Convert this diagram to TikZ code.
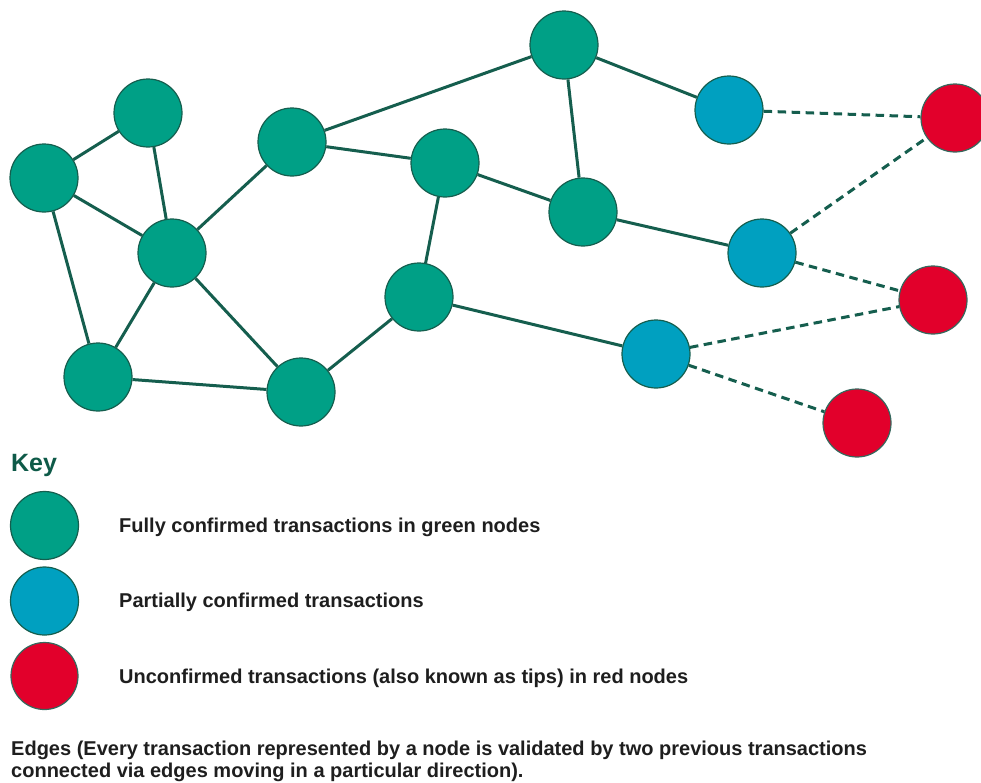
\documentclass[tikz,border=0pt]{standalone}
\usepackage{fontspec}
\setmainfont{Liberation Sans}
\definecolor{tgreen}{HTML}{00A086}
\definecolor{tblue}{HTML}{00A0C0}
\definecolor{tred}{HTML}{E2002B}
\definecolor{tline}{HTML}{155E4E}
\definecolor{tkey}{HTML}{0E5A48}
\definecolor{ttext}{HTML}{1E1E1E}
\begin{document}
\begin{tikzpicture}[x=1pt,y=-1pt,
  tx/.style={circle,minimum size=68pt,inner sep=0pt,line width=1.2pt},
  gnode/.style={tx,fill=tgreen,draw=tline},
  bnode/.style={tx,fill=tblue,draw=tline},
  rnode/.style={tx,fill=tred,draw=tline!70!gray},
  link/.style={draw=tline,line width=3pt},
  tiplink/.style={draw=tline,line width=3pt,dash pattern=on 8.5pt off 5.5pt},
  keytext/.style={anchor=base west,font=\bfseries\fontsize{20}{24}\selectfont,text=ttext,inner sep=0pt},
]
\useasboundingbox (0,0) rectangle (981,782);
% graph nodes
\node[gnode] (a) at (44,178) {};
\node[gnode] (b) at (148,113) {};
\node[gnode] (c) at (292,142) {};
\node[gnode] (d) at (172,253) {};
\node[gnode] (e) at (98,377) {};
\node[gnode] (f) at (301,392) {};
\node[gnode] (g) at (445,163) {};
\node[gnode] (h) at (419,297) {};
\node[gnode] (i) at (564,45) {};
\node[gnode] (j) at (583,212) {};
\node[bnode] (p1) at (729,110) {};
\node[bnode] (p2) at (762,253) {};
\node[bnode] (p3) at (656,354) {};
\node[rnode] (r1) at (955,118) {};
\node[rnode] (r2) at (933,300) {};
\node[rnode] (r3) at (857,423) {};
% confirmed edges
\foreach \u/\v in {a/b,a/d,a/e,b/d,d/c,d/e,d/f,e/f,c/g,c/i,g/j,g/h,h/f,i/j,i/p1,j/p2,h/p3}
  \path[link] (\u) -- (\v);
% edges to tips
\foreach \u/\v in {p1/r1,p2/r1,p2/r2,p3/r2,p3/r3}
  \path[tiplink] (\u) -- (\v);
% key
\node[anchor=base west,inner sep=0pt,font=\bfseries\fontsize{25}{30}\selectfont,text=tkey] (keyt) at (11,471) {Key};
\node[gnode] (kg) at (44.5,525.5) {};
\node[bnode] (kb) at (44.5,601) {};
\node[rnode,minimum size=67pt] (kr) at (44.5,676) {};
\node[keytext] (tg) at (119,532) {Fully confirmed transactions in green nodes};
\node[keytext] (tb) at (119,607.5) {Partially confirmed transactions};
\node[keytext] (tr) at (119,683) {Unconfirmed transactions (also known as tips) in red nodes};
% two-line note; its base anchor sits on the last line
\node[anchor=base west,inner sep=0pt,align=left,font=\bfseries\fontsize{20}{22}\selectfont,text=ttext] (edges) at (11,777)
  {Edges (Every transaction represented by a node is validated by two previous transactions\\connected via edges moving in a particular direction).};
\end{tikzpicture}
\end{document}
